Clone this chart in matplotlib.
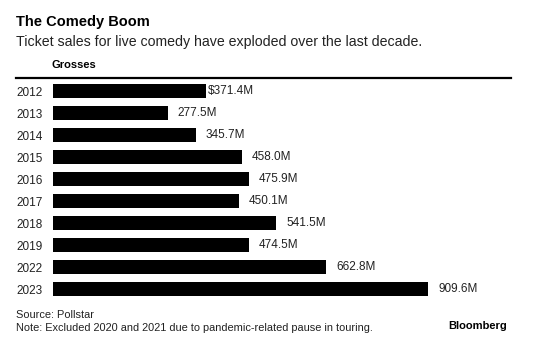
import matplotlib
matplotlib.use("Agg")
import matplotlib.pyplot as plt
from matplotlib.lines import Line2D

plt.rcParams['font.family'] = ['Liberation Sans', 'DejaVu Sans']

years = ["2012", "2013", "2014", "2015", "2016", "2017", "2018", "2019", "2022", "2023"]
grosses = [371.4, 277.5, 345.7, 458.0, 475.9, 450.1, 541.5, 474.5, 662.8, 909.6]
labels = ["$371.4M", "277.5M", "345.7M", "458.0M", "475.9M", "450.1M", "541.5M", "474.5M", "662.8M", "909.6M"]

W, H = 535, 360
fig = plt.figure(figsize=(W / 100, H / 100), dpi=100)

def fx(px):
    return px / W

def fy(py):
    return 1 - py / H

ax = fig.add_axes([fx(53), fy(300), fx(511) - fx(53), fy(80) - fy(300)])
pos = list(range(len(years)))
ax.barh(pos, grosses, height=0.68, color="black")
ax.set_ylim(len(years) - 0.5, -0.5)
ax.set_xlim(0, 1110)
ax.set_yticks(pos)
ax.set_yticklabels(years, fontsize=8.5, ha="left", color="#222222")
ax.tick_params(axis="y", length=0, pad=26.6)
ax.set_xticks([])
for s in ax.spines.values():
    s.set_visible(False)

for i, (v, lab) in enumerate(zip(grosses, labels)):
    off = 1 if lab.startswith("$") else 7
    ax.annotate(lab, (v, i), xytext=(off, 0), textcoords="offset points",
                va="center", ha="left", fontsize=8.5, color="#222222")

fig.text(fx(16), fy(22), "The Comedy Boom", fontsize=10.5, fontweight="bold", va="center", ha="left")
fig.text(fx(16), fy(42), "Ticket sales for live comedy have exploded over the last decade.",
         fontsize=10.2, va="center", ha="left", color="#222222")
fig.text(fx(52), fy(65), "Grosses", fontsize=8, fontweight="bold", va="center", ha="left")
fig.add_artist(Line2D([fx(16), fx(511)], [fy(78), fy(78)], color="black", lw=1.6,
                      transform=fig.transFigure))

fig.text(fx(16), fy(315), "Source: Pollstar", fontsize=7.9, va="center", ha="left", color="#222222")
fig.text(fx(16), fy(328), "Note: Excluded 2020 and 2021 due to pandemic-related pause in touring.",
         fontsize=7.9, va="center", ha="left", color="#222222")
fig.text(fx(507), fy(326), "Bloomberg", fontsize=8, fontweight="bold", va="center", ha="right")

fig.savefig("out.png", dpi=100)
